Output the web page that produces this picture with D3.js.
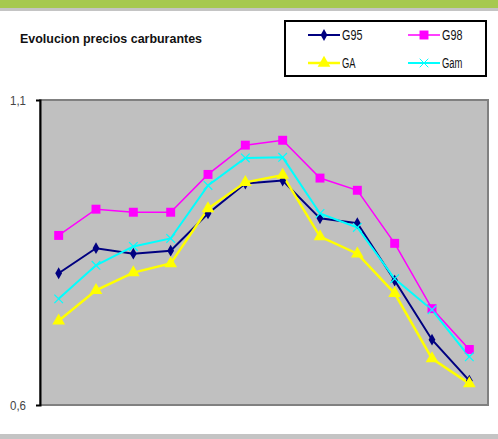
<!DOCTYPE html>
<html lang="es">
<head>
<meta charset="UTF-8">
<title>Evolucion precios carburantes</title>
<script src="https://d3js.org/d3.v7.min.js"></script>
<style>
    body { margin: 0; background: #fff; }
    svg { display: block; font-family: "Liberation Sans", Arial, sans-serif; }
</style>
</head>
<body>
<svg id="chart" width="498" height="439"></svg>
<script>
// data
const periods = ["1", "2", "3", "4", "5", "6", "7", "8", "9", "10", "11", "12"];
const g95 = [0.816, 0.857, 0.848, 0.853, 0.914, 0.963, 0.968, 0.906, 0.898, 0.804, 0.707, 0.640];
const g98 = [0.878, 0.921, 0.916, 0.916, 0.978, 1.026, 1.034, 0.972, 0.952, 0.865, 0.758, 0.691];
const ga  = [0.738, 0.788, 0.817, 0.832, 0.922, 0.965, 0.977, 0.876, 0.848, 0.783, 0.676, 0.635];
const gam = [0.774, 0.829, 0.860, 0.873, 0.960, 1.005, 1.006, 0.914, 0.891, 0.807, 0.756, 0.679];
const yTicks = [0.6, 1.1];

const series = [
    { name: "G95", values: g95, color: "#000080", width: 2, symbol: d3.symbolDiamond, size: 40 },
    { name: "G98", values: g98, color: "#ff00ff", width: 1.5, symbol: d3.symbolSquare, size: 80 },
    { name: "GA", values: ga, color: "#ffff00", width: 2.5, symbol: d3.symbolTriangle, size: 70 },
    { name: "Gam", values: gam, color: "#00ffff", width: 2, symbol: d3.symbolX, size: 50 }
];

const svg = d3.select("#chart");
const W = 498, H = 439;

// frame bands
svg.append("rect").attr("x", 0).attr("y", 0).attr("width", W).attr("height", 8).attr("fill", "#a6c94f");
svg.append("rect").attr("x", 0).attr("y", 8).attr("width", W).attr("height", 3).attr("fill", "#c4c4c4");
svg.append("rect").attr("x", 0).attr("y", 434).attr("width", W).attr("height", 5).attr("fill", "#c4c4c4");

svg.append("text")
    .attr("x", 20).attr("y", 43)
    .attr("font-size", 13).attr("font-weight", "bold")
    .attr("fill", "#111")
    .attr("textLength", 182).attr("lengthAdjust", "spacingAndGlyphs")
    .text("Evolucion precios carburantes");

const plot = { left: 40, right: 488, top: 100, bottom: 405 };

const x = d3.scalePoint()
    .domain(periods)
    .range([plot.left, plot.right])
    .padding(0.5);

const y = d3.scaleLinear()
    .domain([0.6, 1.1])
    .range([plot.bottom, plot.top]);

// plot area
svg.append("rect")
    .attr("x", plot.left).attr("y", plot.top)
    .attr("width", plot.right - plot.left).attr("height", plot.bottom - plot.top)
    .attr("fill", "#c0c0c0")
    .attr("stroke", "#808080").attr("stroke-width", 2);

const yAxis = svg.append("g")
    .attr("transform", `translate(${plot.left},0)`)
    .call(d3.axisLeft(y).tickValues(yTicks).tickSize(4).tickFormat(d => d3.format(".1f")(d).replace(".", ",")));
yAxis.select(".domain").attr("stroke", "#000").attr("stroke-width", 2);
yAxis.selectAll(".tick line").attr("stroke", "#000");
yAxis.selectAll(".tick text")
    .attr("font-family", "Liberation Sans, Arial, sans-serif")
    .attr("font-size", 13).attr("fill", "#444").attr("x", -14)
    .attr("textLength", 16).attr("lengthAdjust", "spacingAndGlyphs");

const line = d3.line()
    .x((d, i) => x(periods[i]))
    .y(d => y(d));

series.forEach(s => {
    svg.append("path")
        .datum(s.values)
        .attr("d", line)
        .attr("fill", "none")
        .attr("stroke", s.color)
        .attr("stroke-width", s.width);
});

series.forEach(s => {
    svg.append("g").selectAll("path")
        .data(s.values)
        .join("path")
        .attr("transform", (d, i) => `translate(${x(periods[i])},${y(d)})`)
        .attr("d", d3.symbol().type(s.symbol).size(s.size))
        .attr("fill", s.symbol === d3.symbolX ? "none" : s.color)
        .attr("stroke", s.symbol === d3.symbolX ? s.color : "none")
        .attr("stroke-width", 1.2);
});

// legend
const legend = svg.append("g");
legend.append("rect")
    .attr("x", 285).attr("y", 21).attr("width", 201).attr("height", 55)
    .attr("fill", "#fff").attr("stroke", "#000").attr("stroke-width", 2);

const legendPos = [[308, 35], [408, 35], [308, 63], [408, 63]];
series.forEach((s, i) => {
    const [lx, ly] = legendPos[i];
    const item = legend.append("g").attr("transform", `translate(${lx},${ly})`);
    item.append("line")
        .attr("x1", 0).attr("x2", 32).attr("y1", 0).attr("y2", 0)
        .attr("stroke", s.color).attr("stroke-width", s.width);
    item.append("path")
        .attr("transform", "translate(16,0)")
        .attr("d", d3.symbol().type(s.symbol).size(s.size))
        .attr("fill", s.symbol === d3.symbolX ? "none" : s.color)
        .attr("stroke", s.symbol === d3.symbolX ? s.color : "none");
    item.append("text")
        .attr("x", 34).attr("y", 5)
        .attr("font-size", 14).attr("fill", "#111")
        .attr("textLength", s.name.length * 6.8).attr("lengthAdjust", "spacingAndGlyphs")
        .text(s.name);
});
</script>
</body>
</html>
